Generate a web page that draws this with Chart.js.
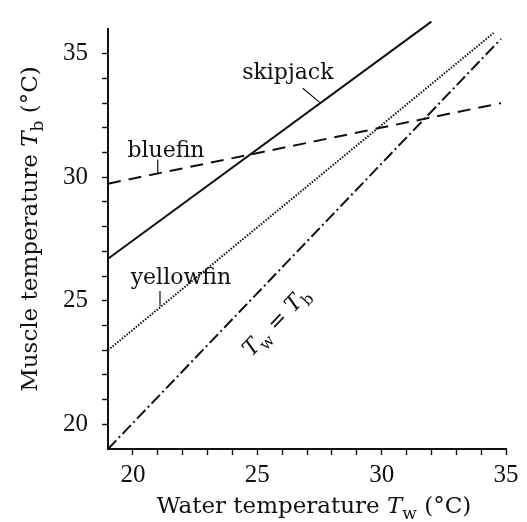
<!DOCTYPE html>
<html>
<head>
<meta charset="utf-8">
<script src="https://cdn.jsdelivr.net/npm/chart.js@4"></script>
<style>
  html, body { margin: 0; padding: 0; background: #fff; }
</style>
</head>
<body>
<canvas id="chart" width="527" height="522"></canvas>
<script>
// water temperature (x) and muscle temperature (y), end points
const skipjackTw = [19, 32.0];
const skipjackTb = [26.7, 36.3];
const bluefinTw = [19, 34.8];
const bluefinTb = [29.74, 33.0];
const yellowfinTw = [19, 34.5];
const yellowfinTb = [23.0, 35.84];
const equalTw = [19, 34.8];
const equalTb = [19, 35.6];

const xTicks = [20, 25, 30, 35];
const yTicks = [20, 25, 30, 35];

const ink = '#111';
const serif = '"DejaVu Serif", serif';

function pts(xs, ys) {
  return xs.map((x, i) => ({ x: x, y: ys[i] }));
}

// label text, anchor in data units, leader line in data units
const labels = [
  { parts: [['skipjack', '']], at: [26.23, 34.2], leader: [[26.83, 33.6], [27.51, 33.03]] },
  { parts: [['bluefin', '']], at: [21.33, 31.05], leader: [[21.0, 30.72], [21.0, 30.15]] },
  { parts: [['yellowfin', '']], at: [21.93, 25.92], leader: [[21.09, 25.4], [21.09, 24.78]] },
  { parts: [['T', 'i'], ['w', 's'], [' = ', ''], ['T', 'i'], ['b', 's']], at: [25.79, 24.12], angle: -46.5 }
];

function drawRich(c, parts, x, y, angle, size) {
  const fonts = parts.map(p => {
    if (p[1] === 'i') return 'italic ' + size + 'px ' + serif;
    if (p[1] === 's') return Math.round(size * 0.72) + 'px ' + serif;
    return size + 'px ' + serif;
  });
  let w = 0;
  const widths = parts.map((p, i) => { c.font = fonts[i]; const m = c.measureText(p[0]).width; w += m; return m; });
  c.save();
  c.translate(x, y);
  c.rotate((angle || 0) * Math.PI / 180);
  c.fillStyle = ink;
  c.textBaseline = 'middle';
  c.textAlign = 'left';
  let cx = -w / 2;
  parts.forEach((p, i) => {
    c.font = fonts[i];
    c.fillText(p[0], cx, p[1] === 's' ? size * 0.34 : 0);
    cx += widths[i];
  });
  c.restore();
}

const textPlugin = {
  id: 'texts',
  afterDraw(chart) {
    const c = chart.ctx;
    const xs = chart.scales.x, ys = chart.scales.y;
    labels.forEach(l => {
      drawRich(c, l.parts, xs.getPixelForValue(l.at[0]), ys.getPixelForValue(l.at[1]), l.angle, 22);
      if (l.leader) {
        c.save();
        c.strokeStyle = ink;
        c.lineWidth = 1.2;
        c.beginPath();
        c.moveTo(xs.getPixelForValue(l.leader[0][0]), ys.getPixelForValue(l.leader[0][1]));
        c.lineTo(xs.getPixelForValue(l.leader[1][0]), ys.getPixelForValue(l.leader[1][1]));
        c.stroke();
        c.restore();
      }
    });
    // axis titles
    drawRich(c, [['Water temperature ', ''], ['T', 'i'], ['w', 's'], [' (°C)', '']], 314, 507, 0, 23);
    drawRich(c, [['Muscle temperature ', ''], ['T', 'i'], ['b', 's'], [' (°C)', '']], 31, 229, -90, 23);
  }
};

const lineStyle = {
  showLine: true,
  pointRadius: 0,
  borderColor: ink,
  borderWidth: 2,
  fill: false,
  clip: false
};

const tickFont = { family: '"Liberation Serif", serif', size: 25 };

new Chart(document.getElementById('chart'), {
  type: 'scatter',
  data: {
    datasets: [
      Object.assign({ label: 'skipjack', data: pts(skipjackTw, skipjackTb) }, lineStyle),
      Object.assign({ label: 'bluefin', data: pts(bluefinTw, bluefinTb), borderDash: [13, 8] }, lineStyle),
      Object.assign({ label: 'yellowfin', data: pts(yellowfinTw, yellowfinTb), borderDash: [1.5, 1.5], borderWidth: 1.6, borderColor: '#333' }, lineStyle),
      Object.assign({ label: 'Tw = Tb', data: pts(equalTw, equalTb), borderDash: [12, 3.5, 2, 3.5] }, lineStyle)
    ]
  },
  options: {
    responsive: false,
    animation: false,
    devicePixelRatio: 1,
    layout: { padding: { top: 23, right: 21, left: 0, bottom: 0 } },
    plugins: { legend: { display: false }, tooltip: { enabled: false } },
    scales: {
      x: {
        type: 'linear',
        min: 19,
        max: 35,
        afterFit: s => { s.height = 73; },
        afterBuildTicks: s => { s.ticks = []; for (let v = 20; v <= 35; v++) s.ticks.push({ value: v }); },
        ticks: {
          autoSkip: false,
          maxRotation: 0,
          padding: 5,
          color: ink,
          font: tickFont,
          callback: v => xTicks.includes(v) ? String(v) : ''
        },
        grid: { drawOnChartArea: false, tickLength: 6, color: ink, tickWidth: 1.4 },
        border: { color: ink, width: 2 }
      },
      y: {
        type: 'linear',
        min: 19,
        max: 36,
        afterFit: s => { s.width = 108; },
        afterBuildTicks: s => { s.ticks = []; for (let v = 20; v <= 35; v++) s.ticks.push({ value: v }); },
        ticks: {
          autoSkip: false,
          padding: 14,
          color: ink,
          font: tickFont,
          callback: v => yTicks.includes(v) ? String(v) : ''
        },
        grid: { drawOnChartArea: false, tickLength: 6, color: ink, tickWidth: 1.4 },
        border: { color: ink, width: 2 }
      }
    }
  },
  plugins: [textPlugin]
});
</script>
</body>
</html>
